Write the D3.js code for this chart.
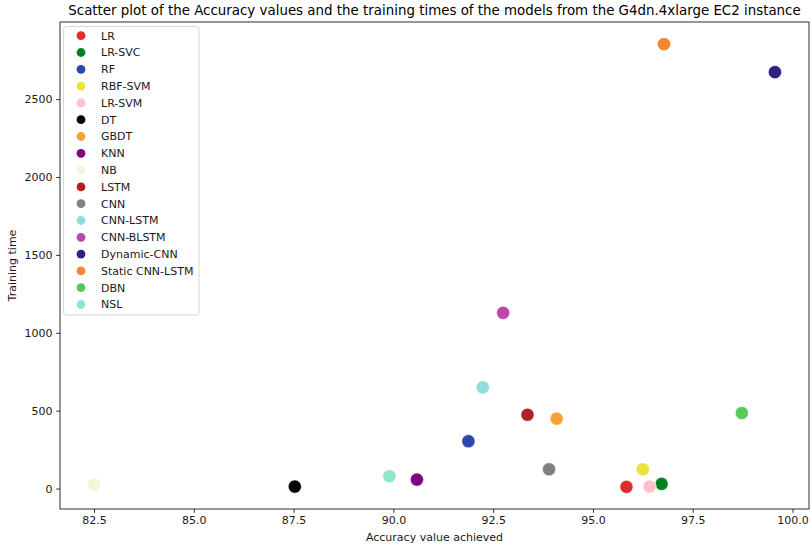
<!DOCTYPE html>
<html>
<head>
<meta charset="utf-8">
<script src="https://cdn.jsdelivr.net/npm/d3@7"></script>
<style>
  body { margin: 0; background: #fff; }
  svg { font-family: "DejaVu Sans", sans-serif; }
</style>
</head>
<body>
<svg id="chart" width="812" height="550"></svg>
<script>
// models, in legend order
const models = ["LR", "LR-SVC", "RF", "RBF-SVM", "LR-SVM", "DT", "GBDT", "KNN", "NB",
  "LSTM", "CNN", "CNN-LSTM", "CNN-BLSTM", "Dynamic-CNN", "Static CNN-LSTM", "DBN", "NSL"];
// accuracy (x) and training time (y)
const accuracy = [95.84, 96.72, 91.88, 96.25, 96.42, 87.53, 94.09, 90.59, 82.5,
  93.36, 93.9, 92.24, 92.75, 99.56, 96.78, 98.73, 89.9];
const trainTime = [11, 30, 304, 124, 13, 13, 449, 58, 24,
  474, 124, 650, 1128, 2673, 2853, 485, 79];
const colors = ["#e12c2c", "#008020", "#2e46a8", "#ebe33c", "#ffc0cb", "#000000", "#f7a035", "#800080", "#f5f5dc",
  "#b22222", "#808080", "#8cdedc", "#bd48ad", "#2e1f80", "#f58733", "#5cc85c", "#8ee5cc"];
const xTicks = [82.5, 85, 87.5, 90, 92.5, 95, 97.5, 100];
const yTicks = [0, 500, 1000, 1500, 2000, 2500];

const data = models.map((m, i) => ({model: m, acc: accuracy[i], time: trainTime[i], color: colors[i]}));

const svg = d3.select("#chart");
const margin = {top: 22, right: 3, bottom: 41, left: 60};
const width = 812, height = 550;

// matplotlib style 5% padding round the data
function padded(ext) {
  const d = (ext[1] - ext[0]) * 0.05;
  return [ext[0] - d, ext[1] + d];
}

const x = d3.scaleLinear()
  .domain(padded(d3.extent(accuracy)))
  .range([margin.left, width - margin.right]);
const y = d3.scaleLinear()
  .domain(padded(d3.extent(trainTime)))
  .range([height - margin.bottom, margin.top]);

// axes
const xAxis = svg.append("g")
  .attr("transform", `translate(0,${height - margin.bottom})`)
  .call(d3.axisBottom(x).tickValues(xTicks).tickFormat(d3.format(".1f")).tickSize(3.8).tickPadding(3.8).tickSizeOuter(0));
const yAxis = svg.append("g")
  .attr("transform", `translate(${margin.left},0)`)
  .call(d3.axisLeft(y).tickValues(yTicks).tickFormat(d3.format("d")).tickSize(3.8).tickPadding(3.8).tickSizeOuter(0));
[xAxis, yAxis].forEach(a => {
  a.selectAll("text").attr("font-size", 11).attr("fill", "#1a1a1a").attr("font-family", "DejaVu Sans");
  a.selectAll("line").attr("stroke", "#1a1a1a").attr("stroke-width", 0.9);
  a.select(".domain").remove();
});

// frame
svg.append("rect")
  .attr("x", margin.left).attr("y", margin.top)
  .attr("width", width - margin.left - margin.right)
  .attr("height", height - margin.top - margin.bottom)
  .attr("fill", "none").attr("stroke", "#1a1a1a").attr("stroke-width", 0.9);

// points
svg.append("g")
  .selectAll("circle")
  .data(data)
  .join("circle")
  .attr("cx", d => x(d.acc))
  .attr("cy", d => y(d.time))
  .attr("r", 6.6)
  .attr("fill", d => d.color)
  .attr("stroke", "#fff")
  .attr("stroke-width", 0.6);

// titles
svg.append("text")
  .attr("x", (margin.left + width - margin.right) / 2)
  .attr("y", 15)
  .attr("text-anchor", "middle")
  .attr("font-size", 13.4)
  .attr("fill", "#000")
  .text("Scatter plot of the Accuracy values and the training times of the models from the G4dn.4xlarge EC2 instance");
svg.append("text")
  .attr("x", (margin.left + width - margin.right) / 2)
  .attr("y", 541)
  .attr("text-anchor", "middle")
  .attr("font-size", 11)
  .attr("fill", "#1a1a1a")
  .text("Accuracy value achieved");
svg.append("text")
  .attr("transform", `translate(16,${(margin.top + height - margin.bottom) / 2}) rotate(-90)`)
  .attr("text-anchor", "middle")
  .attr("font-size", 11)
  .attr("fill", "#1a1a1a")
  .text("Training time");

// legend
const legend = svg.append("g").attr("transform", "translate(63.5,26.5)");
legend.append("rect")
  .attr("width", 135.5).attr("height", 288.5)
  .attr("rx", 3)
  .attr("fill", "#fff").attr("fill-opacity", 0.8)
  .attr("stroke", "#d8d8d8").attr("stroke-width", 1);
const item = legend.selectAll("g.item")
  .data(data)
  .join("g")
  .attr("class", "item")
  .attr("transform", (d, i) => `translate(0,${9.2 + i * 16.8})`);
item.append("circle")
  .attr("cx", 17.5).attr("cy", 0).attr("r", 4.4)
  .attr("fill", d => d.color);
item.append("text")
  .attr("x", 37.5).attr("y", 0).attr("dy", "0.35em")
  .attr("font-size", 11)
  .attr("fill", "#1a1a1a")
  .text(d => d.model);
</script>
</body>
</html>
